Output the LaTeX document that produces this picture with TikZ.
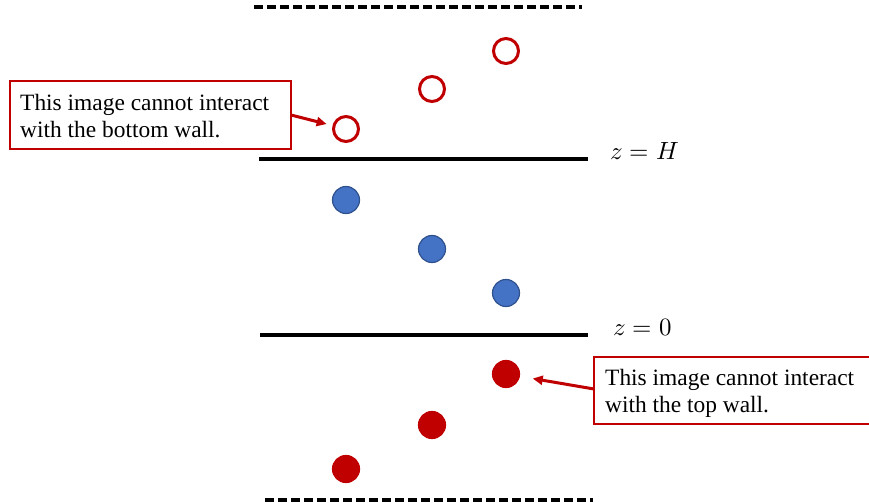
\documentclass[tikz,border=0pt]{standalone}
\usepackage{fontspec}
\setmainfont{Liberation Serif}
\usepackage{unicode-math}
\usetikzlibrary{arrows.meta}
\definecolor{wallred}{HTML}{C00000}
\definecolor{ballblue}{HTML}{4472C4}
\definecolor{balledge}{HTML}{2F528F}
\begin{document}
\begin{tikzpicture}[x=1bp,y=-1bp,
  wall/.style={line width=3.2bp,black},
  dashwall/.style={line width=3.2bp,black,dash pattern=on 9bp off 4bp},
  openball/.style={circle,draw=wallred,line width=3bp,fill=white,minimum size=25bp,inner sep=0pt},
  blueball/.style={circle,draw=balledge,line width=1.2bp,fill=ballblue,minimum size=27bp,inner sep=0pt},
  redball/.style={circle,draw=wallred,line width=1.2bp,fill=wallred,minimum size=27bp,inner sep=0pt},
  boxframe/.style={draw=wallred,line width=2.9bp,fill=white},
  notetext/.style={anchor=north west,align=left,inner sep=0pt,font=\fontsize{23.5}{27.5}\selectfont},
  notearrow/.style={wallred,line width=3bp,-{Triangle[length=10bp,width=9bp]}},
  zlabel/.style={font=\fontsize{25}{28}\selectfont,anchor=west}
]
\useasboundingbox (0,0) rectangle (869,503);
% walls
\coordinate (tdA) at (254,7); \coordinate (tdB) at (582,7);
\coordinate (bdA) at (265,500); \coordinate (bdB) at (593,500);
\coordinate (hA) at (259,159); \coordinate (hB) at (588,159);
\coordinate (oA) at (260,335); \coordinate (oB) at (588,335);
\draw[dashwall] (tdA) -- (tdB);
\draw[dashwall] (bdA) -- (bdB);
\draw[wall] (hA) -- (hB);
\draw[wall] (oA) -- (oB);
\node[zlabel] (lH) at (607,151) {$z=H$};
\node[zlabel] (l0) at (610,327) {$z=0$};
% balls
\node[openball] (o1) at (506,51) {};
\node[openball] (o2) at (432,89) {};
\node[openball] (o3) at (346,129) {};
\node[blueball] (b1) at (346,200) {};
\node[blueball] (b2) at (432,249) {};
\node[blueball] (b3) at (506,293) {};
\node[redball] (r1) at (506,374) {};
\node[redball] (r2) at (432,425) {};
\node[redball] (r3) at (346,469) {};
% notes
\draw[boxframe] (10,81) rectangle (291,149);
\node[notetext] (n1) at (20,94) {This image cannot interact\\with the bottom wall.};
\coordinate (n1r) at (291,115);
\draw[notearrow,shorten >=6bp] (n1r) -- (o3);
\draw[boxframe] (594,357) rectangle (874,424);
\node[notetext] (n2) at (605,369) {This image cannot interact\\with the top wall.};
\coordinate (n2l) at (594,389);
\draw[notearrow,shorten >=13bp] (n2l) -- (r1);
\end{tikzpicture}
\end{document}
